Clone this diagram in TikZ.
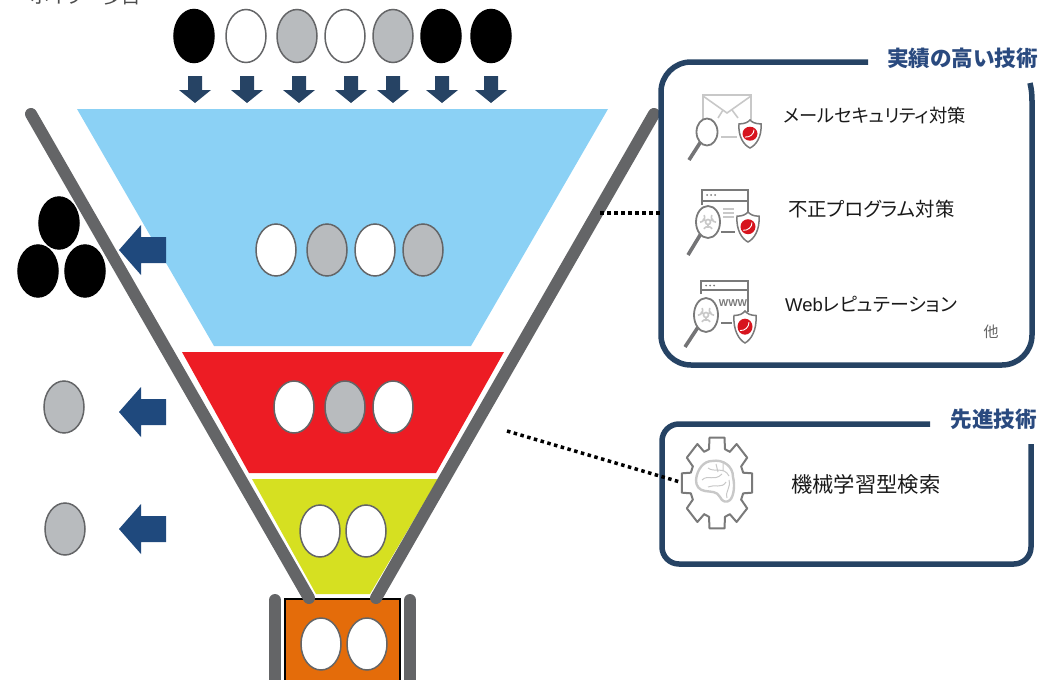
\documentclass[tikz,border=0pt]{standalone}
\usepackage{fontspec}
\setmainfont[RawFeature=+palt]{Noto Sans CJK JP}
\newfontfamily\latinf{Liberation Sans}
\usetikzlibrary{shapes.geometric}
\definecolor{navy}{HTML}{264364}
\definecolor{arrowblue}{HTML}{1F497D}
\definecolor{funnelgray}{HTML}{646567}
\definecolor{ballgray}{HTML}{B8BBBE}
\definecolor{skyb}{HTML}{8BD1F5}
\definecolor{redf}{HTML}{ED1C24}
\definecolor{limef}{HTML}{D6E021}
\definecolor{orangef}{HTML}{E46C0A}
\definecolor{icong}{HTML}{7A7A7A}
\definecolor{iconl}{HTML}{C8C8C8}
\definecolor{shieldred}{HTML}{D7141E}
\definecolor{headblue}{HTML}{2A4A7F}
\tikzset{
 x=1pt,y=-1pt,
 ball/.style={ellipse,minimum width=40pt,minimum height=52pt,inner sep=0pt,draw=funnelgray,line width=1.5pt,fill=white},
 wb/.style={ball},
 gb/.style={ball,fill=ballgray},
 kb/.style={ball,fill=black,draw=black},
 wall/.style={line width=12pt,draw=funnelgray,line cap=round},
 panel/.style={line width=5.5pt,draw=navy,rounded corners=30pt},
 lab/.style={inner sep=0pt,text=black!90},
 head/.style={inner sep=0pt,font=\fontsize{21.6}{26}\selectfont\bfseries,text=headblue},
 dotl/.style={line width=3.5pt,dash pattern=on 3.5pt off 3.5pt,draw=black},
 ig/.style={draw=icong,line width=1.6pt},
 il/.style={draw=iconl,line width=1.6pt},
}
\newcommand{\downarr}[1]{\fill[navy] (#1-7,76)--(#1+7,76)--(#1+7,90)--(#1+16,90)--(#1,103)--(#1-16,90)--(#1-7,90)--cycle;}
\newcommand{\leftarr}[1]{\fill[arrowblue] (166,#1-13)--(166,#1+13)--(141,#1+13)--(141,#1+25)--(119,#1)--(141,#1-25)--(141,#1-13)--cycle;}
% shield at (x,y), half height #3
\newcommand{\shieldicon}[3]{%
 \begin{scope}[shift={(#1,#2)},x=1pt,y=-#3pt]
 \fill[white,draw=icong,line width=1.5pt] (-11,-.72) .. controls (-5,-.72) and (-2,-.85) .. (0,-1) .. controls (2,-.85) and (5,-.72) .. (11,-.72) .. controls (12,.2) and (6,.8) .. (0,1) .. controls (-6,.8) and (-12,.2) .. (-11,-.72) -- cycle;
 \fill[shieldred] (0,-.02) ellipse[x radius=7.5,y radius=.5];
 \draw[white,line width=.9pt] (-5,.22) .. controls (0,.25) and (4,0) .. (4,-.3);
 \end{scope}}
% lens at (x,y) radii #3 #4, handle end #5
\newcommand{\lensicon}[5]{%
 \draw[funnelgray!90,line width=3.6pt] (#1,#2) -- (#5);
 \fill[white,draw=icong,line width=1.8pt] (#1,#2) ellipse[x radius=#3,y radius=#4];}
\newcommand{\biohaz}[2]{%
 \begin{scope}[shift={(#1,#2)},iconl,line width=1.6pt]
 \draw (0,0) circle[radius=2.5];
 \foreach \a in {90,210,330}{
  \draw (\a:2.5) -- (\a:6);
  \draw (\a-32:8) .. controls (\a-20:4) and (\a+20:4) .. (\a+32:8);
 }
 \end{scope}}
\begin{document}
\begin{tikzpicture}
\useasboundingbox (0,0) rectangle (1039,680);
\clip (0,0) rectangle (1039,680);
% cut-off caption
\node[inner sep=0pt,anchor=base west,font=\fontsize{19.5}{22}\selectfont,text=black!70] (cap) at (30,3) {ボイラー多目};
% funnel fills
\fill[skyb] (77,109)--(608,109)--(471,346)--(214,346)--cycle;
\fill[redf] (182,352)--(504,352)--(436,473)--(249,473)--cycle;
\fill[limef] (252,479)--(438,479)--(370,594)--(316,594)--cycle;
\fill[orangef] (285,599) rectangle (400,690);
\draw[black,line width=1.2pt] (285,690)--(285,599)--(400,599)--(400,690);
% walls
\draw[wall] (31,114)--(309,598);
\draw[wall] (654,114)--(376,598);
\draw[wall] (275,600)--(275,690);
\draw[wall] (410,600)--(410,690);
% top balls
\foreach \nm/\st/\cx in {t1/kb/194,t2/wb/246,t3/gb/297,t4/wb/345,t5/gb/393,t6/kb/441,t7/kb/491}{
 \node[\st,minimum height=53pt] (\nm) at (\cx,36) {};
}
\foreach \cx in {195,247,299,351,393,442,491}{\downarr{\cx}}
% funnel balls
\foreach \nm/\st/\cx/\cy in {a1/wb/276/250,a2/gb/327/250,a3/wb/375/250,a4/gb/423/250,
 b1/wb/294/407,b2/gb/345/407,b3/wb/393/407,
 c1/wb/320/531,c2/wb/366/531,
 d1/wb/321/644,d2/wb/367/644,
 r1/gb/64/407,r2/gb/65/529}{
 \node[\st] (\nm) at (\cx,\cy) {};
}
\foreach \nm/\cx/\cy in {k1/59/223,k2/38/271,k3/85/271}{\node[kb] (\nm) at (\cx,\cy) {};}
\leftarr{250}\leftarr{412}\leftarr{529}
% panels
\draw[panel] (868,62)--(661,62)--(661,365)--(1032,365)--(1032,100);
\draw[line width=5.5pt,draw=navy] (1032,101) .. controls (1032,94) and (1031.4,89) .. (1030,83);
\draw[panel,rounded corners=17pt] (930,424)--(662,424)--(662,564)--(1031,564)--(1031,444);
\node[head,anchor=east] (h1) at (1038,58) {実績の高い技術};
\node[head,anchor=east] (h2) at (1037,419) {先進技術};
% dotted leaders
\coordinate (l1) at (600,213);\coordinate (l1e) at (661,213);
\coordinate (l2) at (507,431);\coordinate (l2e) at (680,482);
\draw[dotl] (l1)--(l1e);
\draw[dotl] (l2)--(l2e);
% labels
\node[lab,anchor=west,font=\fontsize{18.3}{22}\selectfont] (m1) at (783,116) {メールセキュリティ対策};
\node[lab,anchor=west,font=\fontsize{19.4}{24}\selectfont] (m2) at (788,209) {不正プログラム対策};
\node[lab,anchor=west,font=\fontsize{18.9}{24}\selectfont] (m3) at (785,304) {{\latinf\fontsize{18.5}{20}\selectfont Web}レピュテーション};
\node[inner sep=0pt,font=\fontsize{15}{18}\selectfont,text=black!60] (m4) at (991,332) {他};
\node[lab,anchor=west,font=\fontsize{21.3}{26}\selectfont] (m5) at (791,484) {機械学習型検索};
% icon 1 mail
\draw[il] (703,121)--(703,95)--(751,95)--(751,120);
\draw[il] (703,96)--(727,113)--(751,96);
\draw[il] (718,118)--(723,110) (732,110)--(738,118);
\draw[il] (721,137)--(737,137);
\lensicon{707}{132}{10.5}{13.5}{689,160}
\shieldicon{750}{134}{14}
% icon 2 program
\draw[ig] (702,205)--(702,190)--(748,190)--(748,213) (702,201)--(748,201);
\fill[icong] (707,195) circle[radius=1] (711,195) circle[radius=1] (715,195) circle[radius=1];
\draw[il] (723,209)--(734,209) (723,213)--(734,213) (723,217)--(734,217);
\draw[ig] (721,232)--(735,232);
\lensicon{708}{222}{12}{16}{688,255}
\biohaz{708}{222}
\shieldicon{748}{227}{15}
% icon 3 www
\draw[ig] (701,294)--(701,281)--(748,281)--(748,312) (701,290)--(748,290);
\fill[icong] (706,285.5) circle[radius=1] (710,285.5) circle[radius=1] (714,285.5) circle[radius=1];
\node[inner sep=0pt,font=\latinf\bfseries\fontsize{10}{11}\selectfont,text=icong] (www) at (733,303) {WWW};
\draw[ig] (721,323)--(732,323);
\lensicon{706}{315}{12}{17}{685,347}
\biohaz{706}{315}
\shieldicon{745}{327}{16}
% icon 4 gear
\begin{scope}[shift={(717,483)},x=36pt,y=-46.5pt]
 \foreach \a in {0,45,...,315}{
  \draw[ig,line width=2pt,line join=round,line cap=round] (\a-17:.76) -- (\a-12:1) -- (\a+12:1) -- (\a+17:.76) -- (\a+28:.76);
 }
\end{scope}
\draw[iconl,line width=2.4pt,line join=round] (696,480) .. controls (697,469) and (704,461) .. (712,461) .. controls (723,459) and (733,466) .. (733,477) .. controls (735,485) and (734,496) .. (730,500) .. controls (727,503) and (722,502) .. (720,497) .. controls (717,491) and (711,492) .. (705,491) .. controls (699,490) and (696,486) .. (696,480) -- cycle;
\draw[iconl,line width=1pt] (702,480) .. controls (708,474) and (714,482) .. (722,474) (708,468) .. controls (714,473) and (724,466) .. (729,476) (708,487) .. controls (714,484) and (722,489) .. (726,482) (727,498) .. controls (725,491) and (731,488) .. (729,480) (716,464) -- (718,472) (723,463) -- (723,470);
\end{tikzpicture}
\end{document}
